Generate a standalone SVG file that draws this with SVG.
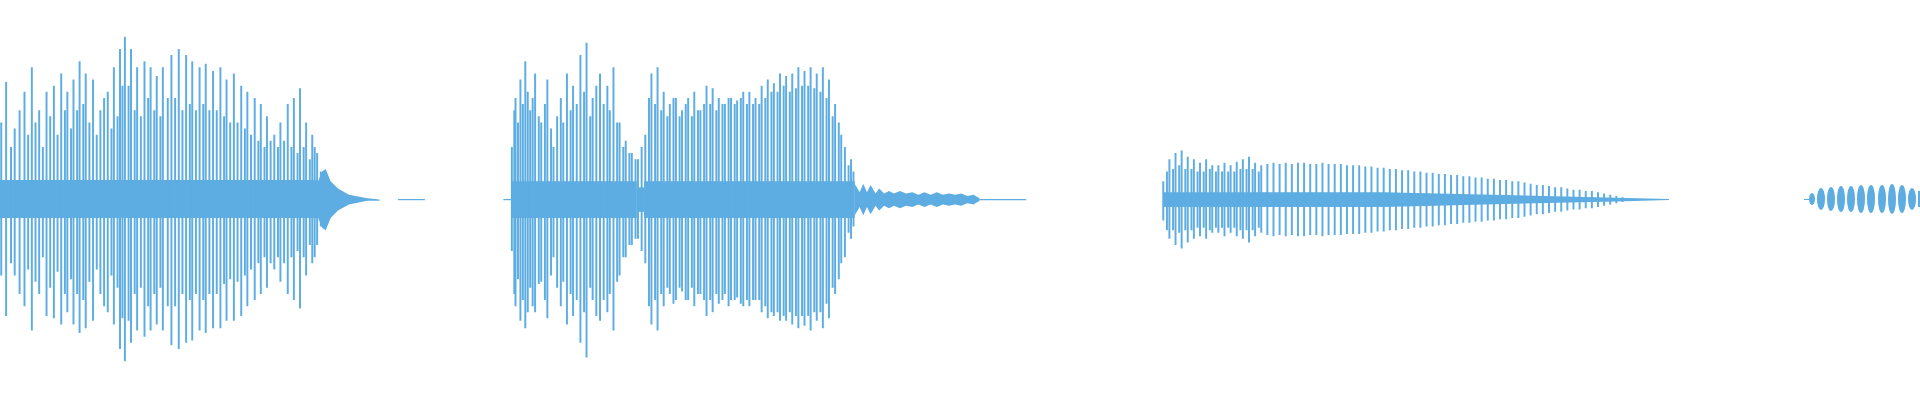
<svg xmlns="http://www.w3.org/2000/svg" width="1920" height="400" viewBox="0 0 1920 400">
<style>
.w{fill:#5dade2;stroke:none}
.b{fill:none;stroke:#5dade2;stroke-width:1.6}
.l{fill:none;stroke:#5dade2;stroke-width:1}
</style>
<rect width="1920" height="400" fill="#fff"/>
<g transform="scale(1.2245)">
<g id="seg1">
<rect class="w" x="0" y="147" width="259" height="31"/>
<path class="w" d="M259,150 L263,140 L266,138 L270,148 L276,154 L285,159 L300,162 L310,163 L310,164 L300,164 L285,167 L276,172 L270,178 L266,188 L263,186 L259,176 Z"/>
<path class="l" d="M325,163 H347"/>
<path class="b" d="M1,100V225M5,67V258M9,120V215M12,105V225M16,90V240M20,75V250M23,110V220M26,55V270M29,100V230M32,90V240M35,120V210M38,75V258M41,95V235M44,70V260M47,110V222M50,60V265M53,90V240M55,75V255M58,105V228M60,65V265M63,90V240M65,50V272M68,85V245M70,60V268M73,100V230M76,65V262M79,110V220M82,90V240M85,80V250M88,75V255M91,105V225M93,55V265M96,95V235M98,40V285M100,70V260M102,30V295M105,70V262M107,40V280M110,90V240M112,55V270M115,95V235M118,50V275M121,80V250M123,55V270M126,90V240M128,62V265M131,95V235M133,55V270M137,80V250M140,45V282M143,80V250M146,40V285M149,90V240M152,45V280M155,85V245M157,50V278M160,90V240M163,55V270M166,85V245M168,52V272M171,90V240M174,58V268M177,90V240M180,55V268M183,95V232M185,65V262M188,100V228M191,60V262M194,100V230M197,70V258M200,105V225M202,75V250M205,110V220M208,80V245M211,115V215M213,85V240M216,120V210M218,95V235M221,115V215M224,110V220M227,120V210M229,100V230M232,115V215M235,85V240M238,120V210M240,80V245M243,125V205M245,72V252M248,120V210M250,100V225M253,130V200M255,110V215M257,120V210M259,125V200M262,140V185"/>
</g>
<g id="seg2">
<rect class="w" x="418" y="148" width="102" height="30"/>
<rect class="w" x="520" y="153" width="6" height="20"/>
<rect class="w" x="526" y="148" width="172" height="30"/>
<path class="l" d="M411,163 H418"/>
<path class="w" d="M698,150 L702,157 L705,150 L708,157 L711,151 L715,158 L718,154 L722,158 L726,156 L730,158 L735,156 L740,158 L745,157 L750,159 L755,157 L760,159 L765,157 L770,159 L775,158 L780,159 L785,158 L790,160 L795,159 L800,162 L800,164 L795,167 L790,166 L785,168 L780,167 L775,168 L770,167 L765,169 L760,167 L755,169 L750,167 L745,169 L740,168 L735,170 L730,168 L726,170 L722,168 L718,172 L715,168 L711,175 L708,169 L705,176 L702,169 L698,176 Z"/>
<path class="l" d="M800,163 H838"/>
<path class="b" d="M418,120V205M420,90V240M421,80V250M423,100V228M425,65V262M427,85V245M429,50V268M431,75V255M433,90V235M435,80V250M437,60V255M440,95V232M442,100V230M445,85V245M447,65V260M450,105V225M452,120V210M455,95V235M458,80V250M460,100V230M463,60V265M466,90V240M468,70V258M471,85V245M474,45V280M477,75V255M479,35V292M482,95V235M484,80V245M487,70V258M490,60V262M493,85V245M496,70V255M498,90V240M501,55V270M504,100V230M506,100V225M509,120V210M511,115V210M514,125V200M516,125V200M519,130V195M521,130V195M524,120V205M527,110V215M530,80V250M532,60V265M535,85V245M537,55V270M540,90V240M542,75V250M545,95V235M547,85V240M550,80V248M552,80V245M555,95V235M557,90V238M560,85V245M562,80V245M565,95V235M567,75V250M570,90V240M572,90V240M575,85V245M577,70V258M580,85V245M582,72V255M585,90V240M587,80V248M590,85V245M592,85V240M595,80V250M597,80V245M600,85V245M602,82V243M605,80V248M607,75V250M610,85V245M612,75V250M615,85V245M617,80V245M620,85V245M622,70V255M625,80V250M627,65V260M630,75V255M632,68V258M635,75V255M637,60V262M640,70V258M642,62V262M645,75V255M647,60V265M650,72V258M652,55V268M655,70V258M657,58V266M660,70V258M662,55V270M665,72V255M667,60V262M670,75V255M672,55V268M675,80V248M677,65V260M680,95V235M682,85V240M685,100V228M687,110V215M690,120V210M693,135V190M695,130V195M697,140V185"/>
</g>
<g id="seg3">
<rect class="w" x="950" y="157" width="180" height="12"/>
<path class="w" d="M1130,157 L1320,161.5 L1363,162.6 L1363,163.4 L1320,164.5 L1130,169 Z"/>
<path class="b" d="M950,148V180M953,140V188M955,130V195M958,138V188M960,125V200M963,135V190M965,123V203M968,138V188M970,128V198M973,138V188M975,130V195M978,140V186M980,133V193M983,140V186M985,130V195M988,138V188M990,135V190M993,140V186M995,135V190M998,140V186M1000,133V193M1003,140V186M1005,135V190M1008,140V186M1010,132V193M1013,138V188M1015,130V195M1018,138V188M1020,128V198M1023,138V188M1025,133V193M1028,140V186M1030,135V190M1035,134V192M1040,133V193M1045,134V192M1050,133V193M1055,134V192M1060,133V193M1065,133V193M1070,134V192M1075,134V192M1080,133V193M1085,134V192M1090,134V192M1095,134V192M1100,135V191M1105,135V191M1110,135V191M1115,136V190M1120,136V190M1125,137V189M1130,137V189M1135,138V188M1140,138V188M1145,139V187M1150,139V187M1155,140V186M1160,140V186M1165,141V185M1170,141V185M1175,142V184M1180,142V184M1185,143V183M1190,143V183M1195,144V182M1200,144V182M1205,145V181M1210,145V181M1215,146V180M1220,146V180M1225,147V179M1230,147V179M1235,148V178M1240,148V178M1245,149V177M1250,150V176M1255,151V175M1260,151V175M1265,152V174M1270,153V173M1275,153V173M1280,154V172M1285,155V171M1290,155V171M1295,156V170M1300,156V170M1305,157V169M1310,158V168M1315,159V167M1320,160V166M1325,161V165"/>
</g>
</g>
<g id="seg4" fill="#5dade2">
<path d="M1804,199.5 H1810" stroke="#5dade2" stroke-width="1"/>
<ellipse cx="1812" cy="199" rx="3" ry="6"/>
<ellipse cx="1821" cy="199" rx="4" ry="11"/>
<ellipse cx="1831" cy="199" rx="4" ry="12"/>
<ellipse cx="1841" cy="199" rx="4" ry="13"/>
<ellipse cx="1851" cy="199" rx="4" ry="13"/>
<ellipse cx="1861" cy="199" rx="4" ry="14"/>
<ellipse cx="1871" cy="199" rx="4" ry="14"/>
<ellipse cx="1882" cy="199" rx="4" ry="14"/>
<ellipse cx="1892" cy="199" rx="4" ry="15"/>
<ellipse cx="1902" cy="199" rx="4" ry="14"/>
<ellipse cx="1912" cy="199" rx="4" ry="11"/>
<rect x="1918" y="191" width="2" height="16"/>
</g>
</svg>
